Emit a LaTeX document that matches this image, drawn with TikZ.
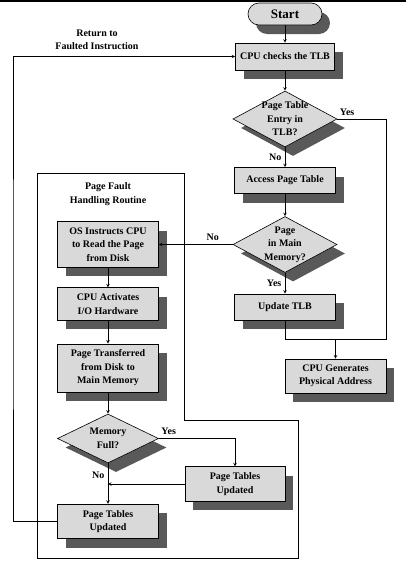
\documentclass[tikz,border=0pt]{standalone}
\usepackage{fontspec}
\setmainfont{Liberation Serif}
\usepackage{tikz}
\usetikzlibrary{shapes.geometric, arrows, shadows}
\tikzstyle{block} = [rectangle, minimum width=101pt, minimum height=26pt, inner ysep=6pt, align=center, draw=black, fill=black!15, drop shadow={shadow xshift=8pt, shadow yshift=-9pt, fill=black!65, opacity=1}]
\tikzstyle{decision} = [diamond, aspect=1.86, minimum width=104pt, minimum height=56pt, inner xsep=0pt, inner ysep=-5pt, align=center, draw=black, fill=black!15, drop shadow={shadow xshift=8pt, shadow yshift=-9pt, fill=black!65, opacity=1}]
\tikzstyle{startstop} = [rectangle, rounded corners=11pt, minimum width=74pt, minimum height=22pt, draw=black, fill=black!15, font=\fontsize{13}{15}\selectfont\bfseries, drop shadow={shadow xshift=8pt, shadow yshift=-9pt, fill=black!65, opacity=1}]
\tikzstyle{arrow} = [->,>=stealth]

\begin{document}
\begin{tikzpicture}[x=1pt, y=-1pt, line width=0.6pt, font=\fontsize{10}{13.5}\selectfont\bfseries]
\useasboundingbox (0,0) rectangle (406,568);
\draw [line width=1.5pt] (0,0.75) -- (406,0.75);
% main column
\node (start) [startstop] at (285,14) {Start};
\node (check) [block, below of=start, node distance=42.5pt, minimum width=99pt, minimum height=27pt] {CPU checks the TLB};
\node (intlb) [decision, below of=check, node distance=62.5pt] {Page Table\\Entry in\\TLB?};
\node (access) [block, below of=intlb, node distance=61.5pt] {Access Page Table};
\node (inmem) [decision, below of=access, node distance=64pt] {Page\\in Main\\Memory?};
\node (update) [block, below of=inmem, node distance=62.5pt] {Update TLB};
\node (gen) [block, below of=update, node distance=69pt, xshift=50.5pt] {CPU Generates\\Physical Address};
% page fault handling routine
\draw (37,173) -- (184,173) -- (184,420) -- (298,420) -- (298,558) -- (37,558) -- cycle;
\node (title) [align=center] at (108,194) {Page Fault\\Handling Routine};
\node (osread) [block, left of=inmem, node distance=177pt] {OS Instructs CPU\\to Read the Page\\from Disk};
\node (activate) [block, below of=osread, node distance=59.5pt] {CPU Activates\\I/O Hardware};
\node (transfer) [block, below of=activate, node distance=64pt] {Page Transferred\\from Disk to\\Main Memory};
\node (full) [decision, below of=transfer, node distance=70.5pt, minimum width=101pt, minimum height=49pt, aspect=2.06] {Memory\\Full?};
\node (ptleft) [block, below of=full, node distance=83pt] {Page Tables\\Updated};
\node (ptright) [block, right of=full, node distance=127pt, yshift=-45.5pt, minimum width=100pt] {Page Tables\\Updated};
\node (ret) [align=center] at (97,40) {Return to\\Faulted Instruction};
\coordinate (merge) at ([yshift=19pt]gen.north);
\coordinate (back) at (13,300);
% connectors
\draw [arrow] (start) -- (check);
\draw [arrow] (check) -- (intlb);
\draw [arrow] (intlb) -- node[left] {No} (access);
\draw (intlb.east) -| node[pos=0.1, above] {Yes} (gen.east |- merge) -- (merge);
\draw [arrow] (access) -- (inmem);
\draw [arrow] (inmem) -- node[left] {Yes} (update);
\draw [arrow] (update) |- (merge) -- (gen);
\draw [arrow] (inmem.west) -- node[pos=0.27, above] {No} (osread.east);
\draw [arrow] (osread) -- (activate);
\draw [arrow] (activate) -- (transfer);
\draw [arrow] (transfer) -- (full);
\draw [arrow] (full.east) -| node[pos=0.065, above] {Yes} (ptright.north);
\draw [arrow] (full.south) -- node[pos=0.29, left] {No} (ptleft.north);
\draw [arrow] (ptright.west) -- (ptright.west -| full.south);
\draw [arrow] (ptleft.west) -| (back) |- (check.west);
\end{tikzpicture}
\end{document}
